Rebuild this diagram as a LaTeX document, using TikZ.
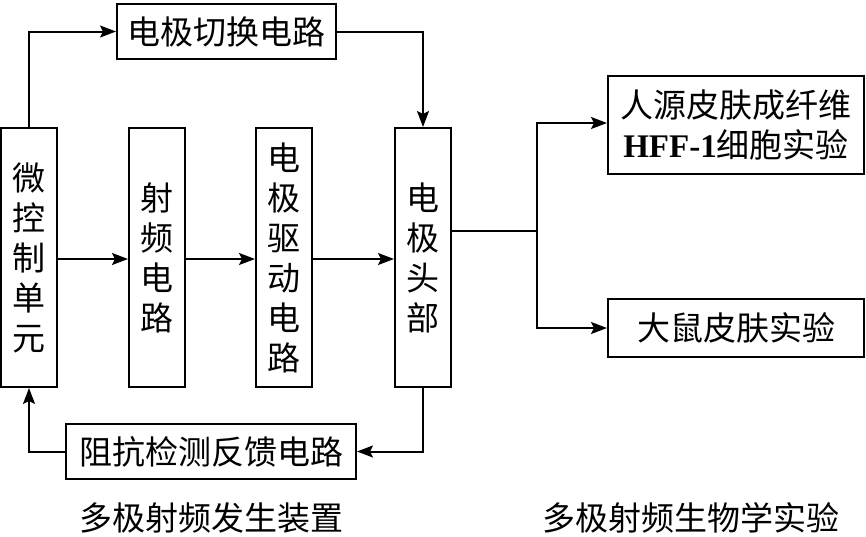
\documentclass[tikz,border=0pt]{standalone}
\usepackage{fontspec}
\usepackage{tikz}
\usetikzlibrary{arrows.meta,positioning,calc}
\newfontfamily\cjk{Noto Sans CJK SC}
\newfontfamily\latinserif{Liberation Serif}

\tikzset{
  blk/.style={draw, line width=2pt, inner sep=0pt, align=center},
  vblk/.style={blk, minimum width=56pt, minimum height=259pt},
  link/.style={line width=2pt, -{Stealth[length=16pt, width=12pt, inset=3pt]}},
  wire/.style={line width=2pt},
}

\begin{document}
\begin{tikzpicture}[x=1pt, y=-1pt, font=\cjk\fontsize{33}{40}\selectfont]
\useasboundingbox (0,0) rectangle (866,536);

% generator part
\node[vblk] (mcu)  at (29,257.5)  {微\\控\\制\\单\\元};
\node[vblk] (rf)   at (157,257.5) {射\\频\\电\\路};
\node[vblk] (drv)  at (284,257.5) {电\\极\\驱\\动\\电\\路};
\node[vblk] (head) at (423,257.5) {电\\极\\头\\部};

\node[blk, minimum width=219pt, minimum height=55pt] (sw) at (226.5,31.5) {电极切换电路};
\node[blk, minimum width=290pt, minimum height=55pt] (fb) at (211,451.5) {阻抗检测反馈电路};

\draw[link] ([yshift=-1.5pt]mcu.east) -- ([yshift=-1.5pt]rf.west);
\draw[link] ([yshift=-1.5pt]rf.east) -- ([yshift=-1.5pt]drv.west);
\draw[link] ([yshift=-1.5pt]drv.east) -- ([yshift=-1.5pt]head.west);
\draw[link] (mcu.north) |- (sw.west);
\draw[link] (sw.east) -| (head.north);
\draw[link] (head.south) |- (fb.east);
\draw[link] (fb.west) -| (mcu.south);

% experiments
\node[blk, minimum width=256pt, minimum height=98pt] (cell) at (736,125)
  {人源皮肤成纤维\\{\latinserif\bfseries HFF-1}细胞实验};
\node[blk, minimum width=256pt, minimum height=58pt] (rat) at (736,328) {大鼠皮肤实验};

\coordinate (br) at (537,231);
\draw[wire] ([yshift=26.5pt]head.east) -- (br);
\draw[link] (br) |- ([yshift=2pt]cell.west);
\draw[link] (br) |- (rat.west);

% captions
\node (capdev) at (211,518) {多极射频发生装置};
\node (capexp) at (691,518) {多极射频生物学实验};
\end{tikzpicture}
\end{document}
